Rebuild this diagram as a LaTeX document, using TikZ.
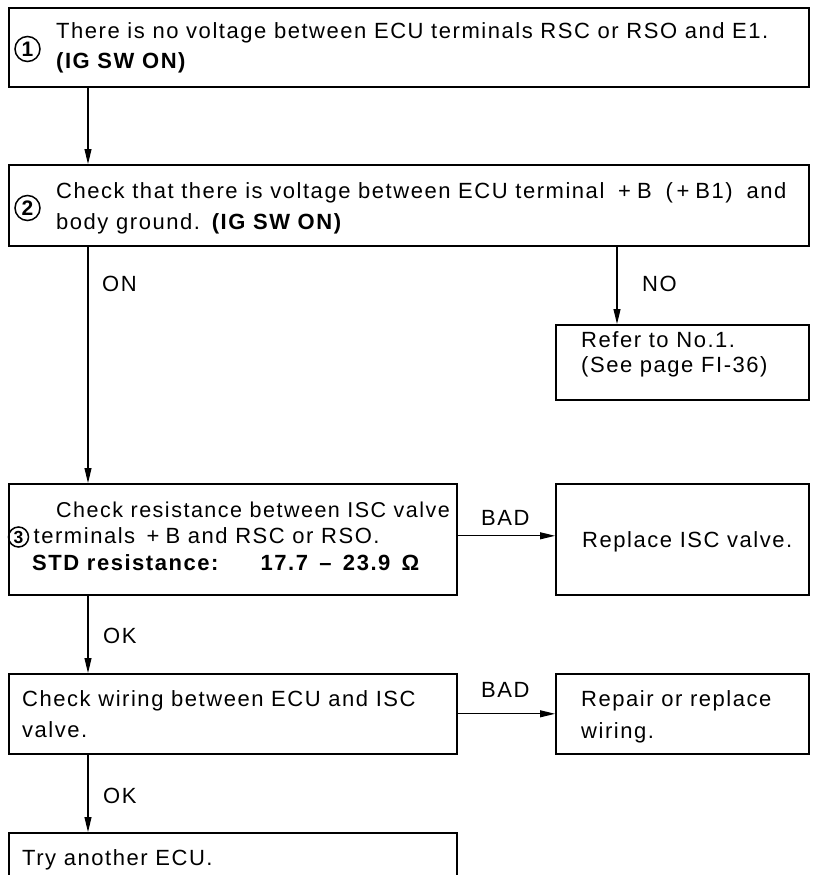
\documentclass[tikz,border=0pt]{standalone}
\usepackage{fontspec}
\setmainfont{Liberation Sans}[LetterSpace=7]
\newfontfamily\digitfont{Liberation Sans}
\usetikzlibrary{arrows.meta}

\begin{document}
\begin{tikzpicture}[x=1pt,y=-1pt,
  frame/.style={draw, line width=1.6pt, rectangle, inner sep=0pt, anchor=north west},
  txt/.style={anchor=base west, inner sep=0pt, font=\fontsize{22}{26}\selectfont},
  num/.style={draw, circle, line width=1.5pt, minimum size=25pt, inner sep=0pt,
              font=\digitfont\fontsize{21}{21}\selectfont\bfseries},
  flow/.style={line width=1.1pt, -{Triangle[length=15pt,width=7pt]}}]

\useasboundingbox (0,0) rectangle (813,875);
\clip (0,0) rectangle (813,875);

% boxes
\node[frame, minimum width=800pt, minimum height=79pt]  (b1)      at (8,7)   {};
\node[frame, minimum width=800pt, minimum height=81pt]  (b2)      at (8,164) {};
\node[frame, minimum width=253pt, minimum height=75pt]  (refer)   at (555,324) {};
\node[frame, minimum width=448pt, minimum height=111pt] (b3)      at (8,483) {};
\node[frame, minimum width=253pt, minimum height=111pt] (replace) at (555,483) {};
\node[frame, minimum width=448pt, minimum height=80pt]  (b4)      at (8,673) {};
\node[frame, minimum width=253pt, minimum height=80pt]  (repair)  at (555,673) {};
\node[frame, minimum width=448pt, minimum height=80pt]  (b5)      at (8,832) {};

% step numbers
\node[num] (n1) at (27.5,49) {1};
\node[num] (n2) at (27.5,208) {2};
\node[num, minimum size=20pt, font=\digitfont\fontsize{17.5}{17.5}\selectfont\bfseries] (n3) at (18.5,537) {3};

% box texts
\node[txt] (t1a) at (56,39) {There is no voltage between ECU terminals RSC or RSO and E1.};
\node[txt] (t1b) at (56,69) {\bfseries (IG SW ON)};
\node[txt] (t2a) at (56,198) {Check that there is voltage between ECU terminal \;+\;B \;(\,+\;B1)\; and};
\node[txt] (t2b) at (56,229) {body ground. \textbf{(IG SW ON)}};
\node[txt] (tra) at (581,347) {Refer to No.1.};
\node[txt] (trb) at (581,372) {(See page FI-36)};
\node[txt, font=\fontsize{21.5}{26}\selectfont] (t3a) at (56,517) {Check resistance between ISC valve};
\node[txt] (t3b) at (33.5,543) {terminals \,+\;B and RSC or RSO.};
\node[txt] (t3c) at (32,570) {\bfseries STD resistance:\hspace{32pt} 17.7 \,–\, 23.9 \,Ω};
\node[txt] (tre) at (582,547) {Replace ISC valve.};
\node[txt] (t4a) at (22,706) {Check wiring between ECU and ISC};
\node[txt] (t4b) at (22,737) {valve.};
\node[txt] (tpa) at (581,706) {Repair or replace};
\node[txt] (tpb) at (581,738) {wiring.};
\node[txt] (t5)  at (22,865) {Try another ECU.};

% branch labels
\node[txt] (lon)   at (102,291) {ON};
\node[txt] (lno)   at (642,291) {NO};
\node[txt] (lbad1) at (481,525) {BAD};
\node[txt] (lbad2) at (481,697) {BAD};
\node[txt] (lok1)  at (103,643) {OK};
\node[txt] (lok2)  at (103,803) {OK};

% connectors
\coordinate (nox) at ([xshift=62pt]refer.north west);
\draw[flow] ([xshift=80pt]b1.south west) -- ([xshift=80pt]b2.north west);
\draw[flow] ([xshift=80pt]b2.south west) -- ([xshift=80pt]b3.north west);
\draw[flow] (b2.south -| nox) -- (nox);
\draw[flow] ([yshift=3.5pt]b3.east) -- ([yshift=3.5pt]b3.east -| replace.west);
\draw[flow] (b4.east) -- (repair.west);
\draw[flow] ([xshift=80pt]b3.south west) -- ([xshift=80pt]b4.north west);
\draw[flow] ([xshift=80pt]b4.south west) -- ([xshift=80pt]b5.north west);

\end{tikzpicture}
\end{document}
